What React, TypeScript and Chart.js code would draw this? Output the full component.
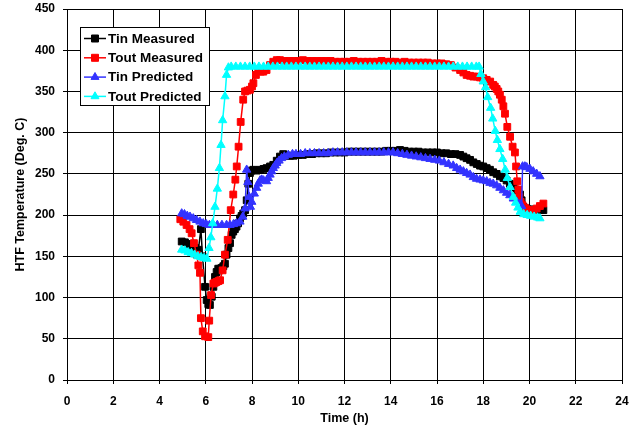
import React, { useEffect, useRef } from 'react';
import { Chart, registerables } from 'chart.js';

Chart.register(...registerables);

// ---------- data ----------
const tinMeasTime = [4.96, 5.1, 5.25, 5.4, 5.55, 5.68, 5.79, 5.86, 5.97, 6.04, 6.11, 6.18, 6.26, 6.33, 6.4, 6.47, 6.54, 6.62, 6.69, 6.76, 6.83, 6.9, 6.98, 7.05, 7.12, 7.19, 7.26, 7.33, 7.4, 7.48, 7.55, 7.62, 7.7, 7.77, 7.84, 7.91, 7.98, 8.06, 8.2, 8.35, 8.5, 8.63, 8.78, 8.92, 9.07, 9.21, 9.35, 9.5, 9.65, 9.8, 10.0, 10.2, 10.4, 10.6, 10.8, 11.0, 11.2, 11.4, 11.6, 11.8, 12.0, 12.2, 12.4, 12.6, 12.8, 13.0, 13.2, 13.4, 13.6, 13.8, 14.0, 14.2, 14.4, 14.6, 14.8, 15.0, 15.2, 15.4, 15.6, 15.8, 16.0, 16.2, 16.4, 16.6, 16.8, 17.0, 17.14, 17.28, 17.43, 17.57, 17.72, 17.86, 18.0, 18.15, 18.29, 18.43, 18.58, 18.72, 18.87, 19.01, 19.15, 19.3, 19.44, 19.59, 19.66, 19.73, 19.88, 20.02, 20.16, 20.31, 20.45, 20.6];
const tinMeasTemp = [168, 167, 165, 162, 160, 158, 183, 150, 113, 97, 92, 91, 101, 113, 125, 131, 135, 135, 136, 138, 141, 152, 160, 166, 176, 180, 183, 186, 190, 196, 199, 202, 206, 218, 238, 251, 254, 255, 254, 255, 256, 257, 259, 261, 266, 271, 274, 272, 272, 272, 273, 273, 274, 274, 275, 275, 275, 276, 276, 276, 276, 277, 277, 277, 277, 277, 277, 277, 277, 278, 278, 278, 279, 278, 277, 277, 277, 276, 276, 276, 276, 275, 275, 274, 274, 273, 271, 269, 267, 264, 262, 260, 259, 257, 255, 252, 250, 247, 245, 242, 238, 234, 230, 225, 218, 210, 208, 207, 206, 206, 206, 206];

const toutMeasTime = [4.9, 5.03, 5.17, 5.3, 5.39, 5.49, 5.61, 5.68, 5.75, 5.79, 5.87, 5.97, 6.11, 6.15, 6.23, 6.33, 6.4, 6.47, 6.55, 6.62, 6.73, 6.83, 6.95, 7.08, 7.19, 7.28, 7.34, 7.42, 7.51, 7.62, 7.7, 7.8, 7.91, 8.0, 8.06, 8.17, 8.27, 8.38, 8.49, 8.63, 8.78, 8.92, 9.07, 9.21, 9.4, 9.6, 9.8, 10.0, 10.2, 10.4, 10.6, 10.8, 11.0, 11.2, 11.4, 11.6, 11.8, 12.0, 12.2, 12.4, 12.6, 12.8, 13.0, 13.2, 13.4, 13.6, 13.8, 14.0, 14.2, 14.4, 14.6, 14.8, 15.0, 15.2, 15.4, 15.6, 15.8, 16.0, 16.2, 16.4, 16.6, 16.8, 17.0, 17.14, 17.28, 17.43, 17.57, 17.72, 17.86, 18.0, 18.15, 18.3, 18.43, 18.5, 18.58, 18.65, 18.72, 18.8, 18.87, 18.94, 19.04, 19.16, 19.27, 19.37, 19.42, 19.47, 19.52, 19.56, 19.62, 19.7, 19.8, 19.88, 20.02, 20.16, 20.31, 20.45, 20.6];
const toutMeasTemp = [195, 192, 188, 183, 178, 166, 152, 139, 130, 75, 59, 53, 52, 72, 103, 117, 118, 119, 120, 121, 133, 152, 170, 206, 225, 243, 259, 283, 313, 340, 350, 351, 352, 356, 360, 370, 376, 374, 374, 376, 382, 386, 388, 388, 387, 387, 387, 387, 388, 387, 387, 387, 387, 387, 387, 386, 386, 386, 386, 387, 386, 386, 386, 386, 386, 387, 386, 386, 386, 385, 386, 385, 385, 385, 385, 385, 384, 384, 384, 383, 382, 379, 376, 373, 370, 369, 368, 368, 367, 366, 364, 362, 358, 356, 353, 350, 346, 340, 332, 323, 307, 295, 283, 276, 259, 241, 231, 222, 216, 212, 209, 207, 206, 206, 208, 211, 214];

const tinPredTime = [4.96, 5.08, 5.2, 5.32, 5.46, 5.6, 5.75, 5.89, 6.02, 6.16, 6.33, 6.5, 6.7, 6.9, 7.05, 7.2, 7.33, 7.48, 7.6, 7.7, 7.77, 7.82, 7.88, 7.93, 7.99, 8.1, 8.2, 8.27, 8.35, 8.42, 8.5, 8.63, 8.7, 8.78, 8.85, 8.92, 9.0, 9.07, 9.17, 9.28, 9.4, 9.57, 9.75, 9.9, 10.1, 10.3, 10.5, 10.7, 10.9, 11.1, 11.3, 11.5, 11.7, 11.9, 12.1, 12.3, 12.5, 12.7, 12.9, 13.1, 13.3, 13.5, 13.7, 13.9, 14.1, 14.3, 14.5, 14.7, 14.9, 15.1, 15.3, 15.5, 15.7, 15.9, 16.1, 16.3, 16.5, 16.7, 16.85, 17.0, 17.14, 17.28, 17.43, 17.57, 17.71, 17.86, 18.0, 18.15, 18.29, 18.43, 18.58, 18.72, 18.87, 19.01, 19.15, 19.3, 19.45, 19.59, 19.66, 19.7, 19.8, 19.88, 20.02, 20.16, 20.31, 20.45];
const tinPredTemp = [202, 201, 199, 198, 196, 194, 192, 190, 189, 188, 188, 188, 188, 188, 188, 189, 190, 192, 198, 208, 255, 240, 222, 210, 216, 226, 233, 238, 242, 243, 242, 241, 245, 249, 253, 257, 260, 263, 266, 269, 271, 273, 274, 274, 274, 275, 275, 275, 275, 275, 275, 276, 276, 276, 276, 276, 276, 276, 276, 276, 276, 276, 276, 276, 276, 275, 274, 273, 272, 271, 270, 269, 268, 267, 266, 264, 262, 260, 257, 255, 253, 251, 249, 246, 244, 243, 242, 241, 239, 238, 236, 233, 230, 227, 224, 220, 216, 213, 211, 259, 259, 258, 256, 253, 250, 247];

const toutPredTime = [4.96, 5.1, 5.24, 5.38, 5.52, 5.66, 5.8, 5.93, 6.05, 6.14, 6.22, 6.3, 6.4, 6.5, 6.59, 6.66, 6.73, 6.83, 6.9, 6.98, 7.1, 7.3, 7.5, 7.7, 7.9, 8.1, 8.3, 8.5, 8.7, 8.9, 9.1, 9.3, 9.5, 9.7, 9.9, 10.1, 10.3, 10.5, 10.7, 10.9, 11.1, 11.3, 11.5, 11.7, 11.9, 12.1, 12.3, 12.5, 12.7, 12.9, 13.1, 13.3, 13.5, 13.7, 13.9, 14.1, 14.3, 14.5, 14.7, 14.9, 15.1, 15.3, 15.5, 15.7, 15.9, 16.1, 16.3, 16.5, 16.7, 16.9, 17.1, 17.3, 17.5, 17.7, 17.82, 17.9, 18.0, 18.1, 18.19, 18.32, 18.41, 18.52, 18.61, 18.72, 18.84, 18.95, 19.04, 19.16, 19.3, 19.4, 19.5, 19.6, 19.75, 19.9, 20.05, 20.2, 20.35, 20.45];
const toutPredTemp = [158, 157, 155, 154, 152, 150, 149, 148, 147, 160, 173, 190, 210, 232, 257, 285, 315, 344, 370, 379, 380, 380, 380, 380, 380, 380, 380, 380, 380, 380, 380, 380, 380, 380, 380, 380, 380, 380, 380, 380, 380, 380, 380, 380, 380, 380, 380, 380, 380, 380, 380, 380, 380, 380, 380, 380, 380, 380, 380, 380, 380, 380, 380, 380, 380, 380, 380, 380, 380, 380, 380, 380, 380, 380, 380, 371, 362, 355, 343, 330, 317, 302, 291, 280, 268, 255, 245, 234, 222, 215, 209, 204, 201, 200, 199, 198, 197, 196];

const seriesNames = ['Tin Measured', 'Tout Measured', 'Tin Predicted', 'Tout Predicted'];
const seriesColors = ['#000000', '#FF0000', '#3333FF', '#00FFFF'];
const seriesMarkers = ['rect', 'rect', 'triangle', 'triangle'];
const seriesTimes = [tinMeasTime, toutMeasTime, tinPredTime, toutPredTime];
const seriesTemps = [tinMeasTemp, toutMeasTemp, tinPredTemp, toutPredTemp];

const xMin = 0, xMax = 24, xStep = 2;
const yMin = 0, yMax = 450, yStep = 50;
const xTitle = 'Time (h)';
const yTitle = 'HTF Temperature (Deg. C)';

const FONT_FAMILY = '"Liberation Sans", Arial, Helvetica, sans-serif';

function drawMarker(ctx: CanvasRenderingContext2D, kind: string, x: number, y: number, color: string) {
  ctx.fillStyle = color;
  ctx.strokeStyle = color;
  ctx.lineWidth = 1;
  ctx.beginPath();
  if (kind === 'rect') {
    ctx.rect(x - 3.5, y - 3.5, 7, 7);
  } else {
    const r = 4.6;
    ctx.moveTo(x, y - r);
    ctx.lineTo(x + r * Math.sin((2 * Math.PI) / 3), y - r * Math.cos((2 * Math.PI) / 3));
    ctx.lineTo(x + r * Math.sin((4 * Math.PI) / 3), y - r * Math.cos((4 * Math.PI) / 3));
    ctx.closePath();
  }
  ctx.fill();
  ctx.stroke();
}

const boxedLegend = {
  id: 'boxedLegend',
  afterDraw(chart: any) {
    const { ctx, chartArea } = chart;
    const x0 = Math.round(chartArea.left) + 13;
    const y0 = Math.round(chartArea.top) + 18;
    const w = 129;
    const h = 78;
    ctx.save();
    ctx.fillStyle = '#FFFFFF';
    ctx.fillRect(x0, y0, w, h);
    ctx.strokeStyle = '#000000';
    ctx.lineWidth = 1;
    ctx.strokeRect(x0 + 0.5, y0 + 0.5, w, h);
    ctx.font = `bold 13.5px ${FONT_FAMILY}`;
    ctx.textBaseline = 'middle';
    ctx.textAlign = 'left';
    seriesNames.forEach((name, i) => {
      const cy = y0 + 11.5 + i * 19.3;
      const color = seriesColors[i];
      ctx.strokeStyle = color;
      ctx.lineWidth = 1.5;
      ctx.beginPath();
      ctx.moveTo(x0 + 4, cy);
      ctx.lineTo(x0 + 26, cy);
      ctx.stroke();
      drawMarker(ctx, seriesMarkers[i], x0 + 15, cy, color);
      ctx.fillStyle = '#000000';
      ctx.fillText(name, x0 + 28, cy + 0.5);
    });
    ctx.restore();
  },
};

export default function App() {
  const canvasRef = useRef<HTMLCanvasElement | null>(null);

  useEffect(() => {
    const canvas = canvasRef.current;
    if (!canvas) return;
    const tickFont = { family: FONT_FAMILY, size: 12, weight: 'bold' as const };
    const titleFont = { family: FONT_FAMILY, size: 12.5, weight: 'bold' as const };

    const datasets = seriesNames.map((name, i) => ({
      label: name,
      data: seriesTimes[i].map((t, j) => ({ x: t, y: seriesTemps[i][j] })),
      borderColor: seriesColors[i],
      backgroundColor: seriesColors[i],
      pointBackgroundColor: seriesColors[i],
      pointBorderColor: seriesColors[i],
      pointStyle: seriesMarkers[i],
      pointRadius: 4.8,
      pointBorderWidth: 1,
      borderWidth: 1.5,
      tension: 0,
      fill: false,
      order: 3 - i,
    }));

    const chart = new Chart(canvas, {
      type: 'line',
      data: { datasets },
      options: {
        responsive: false,
        animation: false,
        devicePixelRatio: 1,
        layout: { padding: { top: 9, right: 19, left: 0, bottom: 0 } },
        plugins: {
          legend: { display: false },
          tooltip: { enabled: false },
        },
        scales: {
          x: {
            type: 'linear',
            min: xMin,
            max: xMax,
            ticks: { stepSize: xStep, color: '#000', font: tickFont, padding: 10, maxRotation: 0 },
            grid: { color: '#000', lineWidth: 1, tickLength: 4, tickColor: '#000' },
            border: { color: '#000', width: 1 },
            title: { display: true, text: xTitle, color: '#000', font: titleFont, padding: { top: 0, bottom: 0.5 } },
            afterFit: (scale: any) => {
              scale.height = 47;
              scale.paddingLeft = 0;
              scale.paddingRight = 0;
            },
          },
          y: {
            type: 'linear',
            min: yMin,
            max: yMax,
            ticks: { stepSize: yStep, color: '#000', font: tickFont, padding: 8 },
            grid: { color: '#000', lineWidth: 1, tickLength: 4, tickColor: '#000' },
            border: { color: '#000', width: 1 },
            title: { display: true, text: yTitle, color: '#000', font: titleFont, padding: { top: 13, bottom: 0 } },
            afterFit: (scale: any) => {
              scale.width = 67;
              scale.paddingTop = 0;
              scale.paddingBottom = 0;
            },
          },
        },
      },
      plugins: [boxedLegend],
    } as any);

    return () => {
      chart.destroy();
    };
  }, []);

  return (
    <div style={{ position: 'absolute', left: 0, top: 0, width: 641, height: 427, background: '#fff' }}>
      <canvas ref={canvasRef} width={641} height={427} style={{ display: 'block', width: 641, height: 427 }} />
    </div>
  );
}
